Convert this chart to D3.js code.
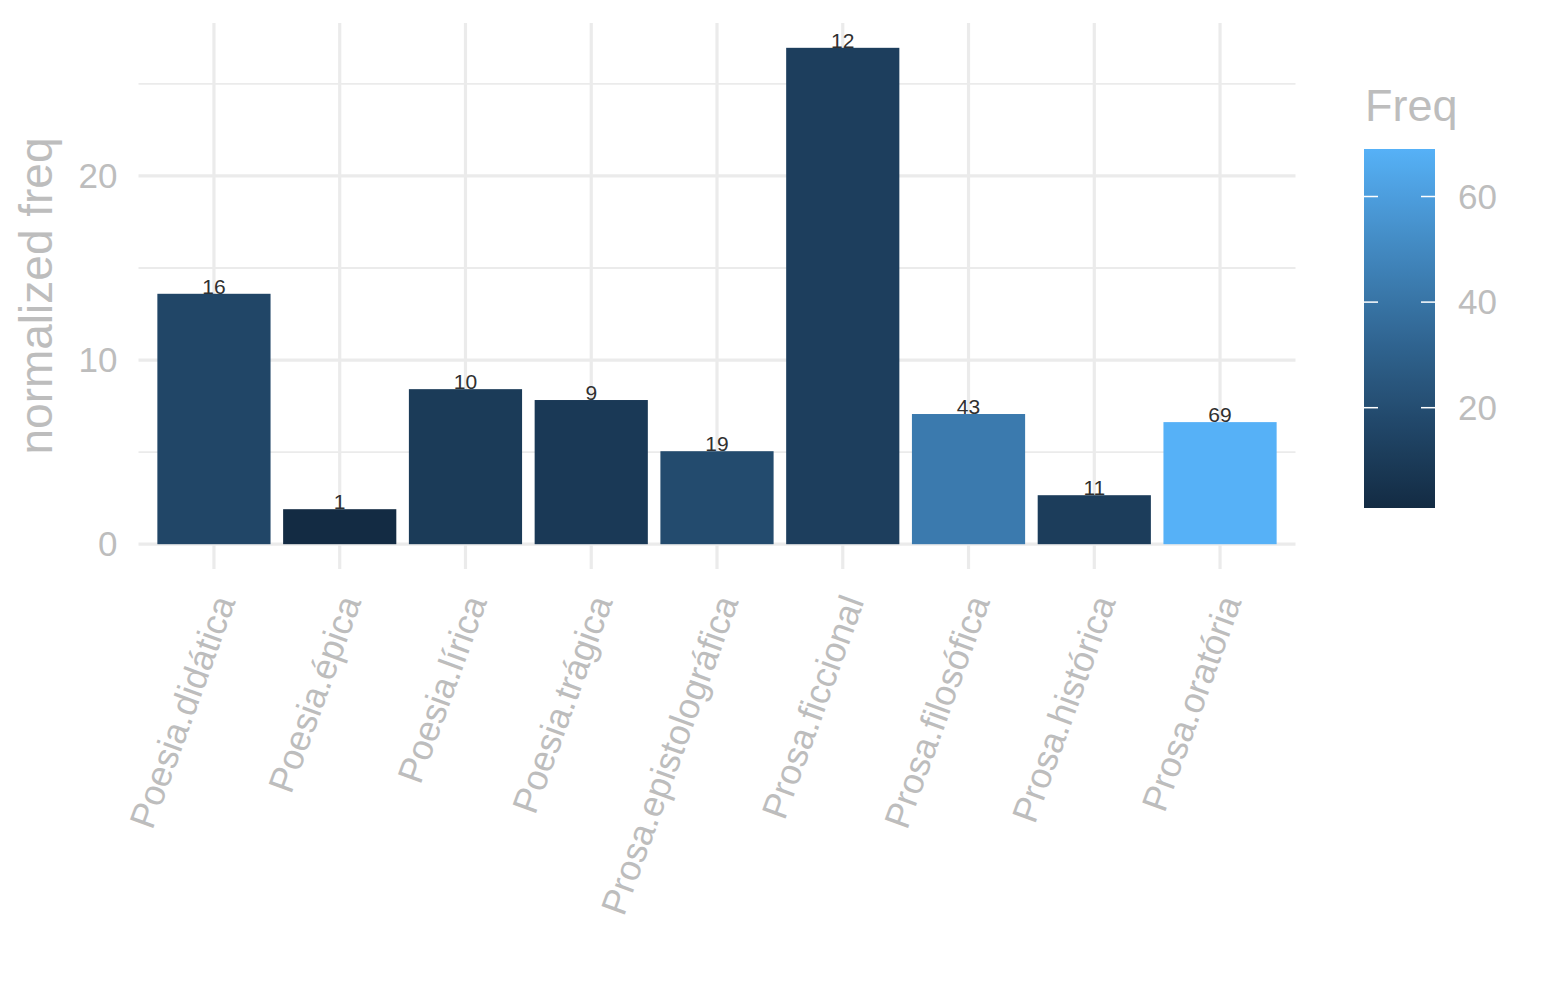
<!DOCTYPE html>
<html>
<head>
<meta charset="utf-8">
<script src="https://cdn.jsdelivr.net/npm/d3@7"></script>
<style>
  body { margin: 0; background: #fff; }
  svg { display: block; font-family: 'Liberation Sans', Arial, sans-serif; }
</style>
</head>
<body>
<div id="chart"></div>
<script>
const categories = [
  'Poesia.didática', 'Poesia.épica', 'Poesia.lírica', 'Poesia.trágica',
  'Prosa.epistolográfica', 'Prosa.ficcional', 'Prosa.filosófica',
  'Prosa.histórica', 'Prosa.oratória',
]
const normFreq = [13.6, 1.9, 8.42, 7.83, 5.05, 26.96, 7.07, 2.66, 6.63]
const freq = [16, 1, 10, 9, 19, 12, 43, 11, 69]
const yMajorTicks = [0, 10, 20]
const yMinorTicks = [5, 15, 25]
const legendTicks = [20, 40, 60]

const width = 1545
const height = 1000
const margin = { left: 138.5, right: 249.5, top: 23, bottom: 431 }

const greyText = '#bdbdbd'
const gridColor = '#ebebeb'
const tickFontSize = 35

const svg = d3
  .select('#chart')
  .append('svg')
  .attr('width', width)
  .attr('height', height)

const maxY = d3.max(normFreq)
const yScale = d3
  .scaleLinear()
  .domain([-0.05 * maxY, maxY * 1.05])
  .range([height - margin.bottom, margin.top])

// ggplot style discrete expansion: 0.6 of a step on each side
const xScale = d3
  .scaleBand()
  .domain(categories)
  .range([margin.left, width - margin.right])
  .paddingInner(0.1)
  .paddingOuter(0.15)

const colorScale = d3
  .scaleLinear()
  .domain([d3.min(freq), d3.max(freq)])
  .range(['#132B43', '#56B1F7'])
  .interpolate(d3.interpolateLab)

const xCenter = d => xScale(d) + xScale.bandwidth() / 2

// grid
svg
  .append('g')
  .selectAll('line')
  .data(yMinorTicks)
  .join('line')
  .attr('x1', margin.left)
  .attr('x2', width - margin.right)
  .attr('y1', d => yScale(d))
  .attr('y2', d => yScale(d))
  .attr('stroke', gridColor)
  .attr('stroke-width', 1.8)

svg
  .append('g')
  .selectAll('line')
  .data(yMajorTicks)
  .join('line')
  .attr('x1', margin.left)
  .attr('x2', width - margin.right)
  .attr('y1', d => yScale(d))
  .attr('y2', d => yScale(d))
  .attr('stroke', gridColor)
  .attr('stroke-width', 3.2)

svg
  .append('g')
  .selectAll('line')
  .data(categories)
  .join('line')
  .attr('x1', xCenter)
  .attr('x2', xCenter)
  .attr('y1', margin.top)
  .attr('y2', height - margin.bottom)
  .attr('stroke', gridColor)
  .attr('stroke-width', 3.2)

// bars
svg
  .append('g')
  .selectAll('rect')
  .data(categories)
  .join('rect')
  .attr('x', d => xScale(d))
  .attr('width', xScale.bandwidth())
  .attr('y', (d, i) => yScale(normFreq[i]))
  .attr('height', (d, i) => yScale(0) - yScale(normFreq[i]))
  .attr('fill', (d, i) => colorScale(freq[i]))

// bar labels
svg
  .append('g')
  .selectAll('text')
  .data(categories)
  .join('text')
  .attr('x', xCenter)
  .attr('y', (d, i) => yScale(normFreq[i]))
  .attr('text-anchor', 'middle')
  .attr('font-size', 21)
  .attr('fill', '#303030')
  .text((d, i) => freq[i])

// y axis
const yAxis = d3
  .axisLeft(yScale)
  .tickValues(yMajorTicks)
  .tickSize(0)
  .tickPadding(21)
const yAxisG = svg
  .append('g')
  .attr('transform', `translate(${margin.left}, 0)`)
  .call(yAxis)
yAxisG.select('.domain').remove()
yAxisG
  .selectAll('text')
  .attr('font-size', tickFontSize)
  .attr('fill', greyText)
  .attr('font-family', 'Liberation Sans, Arial, sans-serif')

svg
  .append('text')
  .attr(
    'transform',
    `translate(52, ${(margin.top + height - margin.bottom) / 2}) rotate(-90)`,
  )
  .attr('text-anchor', 'middle')
  .attr('font-size', 46)
  .attr('fill', greyText)
  .text('normalized freq')

// x axis labels
svg
  .append('g')
  .selectAll('text')
  .data(categories)
  .join('text')
  .attr('transform', d => `translate(${xCenter(d) + 10}, 597) rotate(-70)`)
  .attr('text-anchor', 'end')
  .attr('dy', '0.35em')
  .attr('font-size', 36)
  .attr('fill', greyText)
  .text(d => d)

// legend
const legend = { x: 1364, y: 149, w: 71, h: 359 }

const legendScale = d3
  .scaleLinear()
  .domain([d3.min(freq), d3.max(freq)])
  .range([legend.y + legend.h, legend.y])

const gradient = svg
  .append('defs')
  .append('linearGradient')
  .attr('id', 'freq-gradient')
  .attr('x1', 0)
  .attr('y1', 1)
  .attr('x2', 0)
  .attr('y2', 0)

d3.range(0, 1.0001, 0.05).forEach(t => {
  const v = d3.min(freq) + t * (d3.max(freq) - d3.min(freq))
  gradient
    .append('stop')
    .attr('offset', t)
    .attr('stop-color', colorScale(v))
})

svg
  .append('text')
  .attr('x', legend.x + 1)
  .attr('y', 121)
  .attr('font-size', 45)
  .attr('fill', greyText)
  .text('Freq')

svg
  .append('rect')
  .attr('x', legend.x)
  .attr('y', legend.y)
  .attr('width', legend.w)
  .attr('height', legend.h)
  .attr('fill', 'url(#freq-gradient)')

legendTicks.forEach(t => {
  const ty = legendScale(t)
  svg
    .append('line')
    .attr('x1', legend.x)
    .attr('x2', legend.x + 14)
    .attr('y1', ty)
    .attr('y2', ty)
    .attr('stroke', '#ffffff')
    .attr('stroke-width', 1.5)
  svg
    .append('line')
    .attr('x1', legend.x + legend.w - 14)
    .attr('x2', legend.x + legend.w)
    .attr('y1', ty)
    .attr('y2', ty)
    .attr('stroke', '#ffffff')
    .attr('stroke-width', 1.5)
  svg
    .append('text')
    .attr('x', legend.x + legend.w + 23)
    .attr('y', ty)
    .attr('dy', '0.35em')
    .attr('font-size', tickFontSize)
    .attr('fill', greyText)
    .text(t)
})
</script>
</body>
</html>
